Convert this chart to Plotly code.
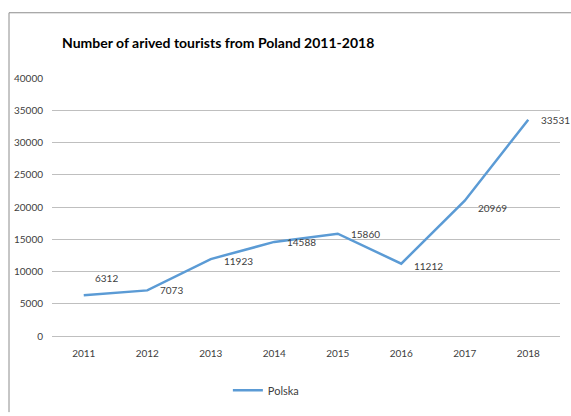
import plotly.graph_objects as go

years = ["2011", "2012", "2013", "2014", "2015", "2016", "2017", "2018"]
polska = [6312, 7073, 11923, 14588, 15860, 11212, 20969, 33531]
label_dy = [17, 0, -2, 0, 0, -2, -7, 0]
y_ticks = [0, 5000, 10000, 15000, 20000, 25000, 30000, 35000, 40000]

W, H = 571, 416
ml, mr, mt, mb = 52, 11, 78, 77
pw, ph = W - ml - mr, H - mt - mb

def px_x(p):
    return (p - ml) / pw

def px_y(p):
    return (H - mb - p) / ph

font_fam = "Lato, Liberation Sans, sans-serif"

fig = go.Figure()
fig.add_trace(go.Scatter(
    x=years, y=polska, mode="lines", name="Polska",
    line=dict(color="#5B9BD5", width=2.5),
))

annotations = [
    dict(x=i, y=v, xref="x", yref="y", text=str(v), showarrow=False,
         xanchor="left", yanchor="middle", xshift=9 if i == 0 else 11, yshift=dy,
         font=dict(family=font_fam, size=10, color="#404040"))
    for i, (v, dy) in enumerate(zip(polska, label_dy))
]

fig.update_layout(
    width=W, height=H,
    margin=dict(l=ml, r=mr, t=mt, b=mb),
    paper_bgcolor="white", plot_bgcolor="white",
    font=dict(family=font_fam, size=10, color="#404040"),
    title=dict(text="<b>Number of arived tourists from Poland 2011-2018</b>",
               x=62 / W, xanchor="left", xref="container",
               y=1 - 43 / H, yanchor="middle", yref="container",
               font=dict(family=font_fam, size=14, color="#000000")),
    xaxis=dict(type="category", showgrid=False, showline=False, ticks="",
               tickfont=dict(size=10, color="#404040"), range=[-0.5, 7.5],
               ticklabelstandoff=10),
    yaxis=dict(range=[0, 40000], tickvals=y_ticks, ticktext=[str(v) for v in y_ticks],
               showgrid=True, gridcolor="#BFBFBF", gridwidth=1, zeroline=True,
               zerolinecolor="#BFBFBF", zerolinewidth=1, ticks="",
               tickfont=dict(size=10, color="#404040"), ticklabelstandoff=8),
    showlegend=True,
    legend=dict(orientation="h", x=0.421, xanchor="center", y=px_y(394), yanchor="middle",
                font=dict(size=11, color="#404040")),
    annotations=annotations,
    shapes=[
        dict(type="line", xref="paper", yref="paper", x0=px_x(9), x1=px_x(571),
             y0=px_y(12), y1=px_y(12), line=dict(color="#8C8C8C", width=1)),
        dict(type="line", xref="paper", yref="paper", x0=px_x(9), x1=px_x(9),
             y0=px_y(12), y1=px_y(416), line=dict(color="#8C8C8C", width=1)),
    ],
)

fig.write_html("out.html", config={"displayModeBar": False},
               post_script="document.body.style.margin='0';document.body.style.overflow='hidden';")
